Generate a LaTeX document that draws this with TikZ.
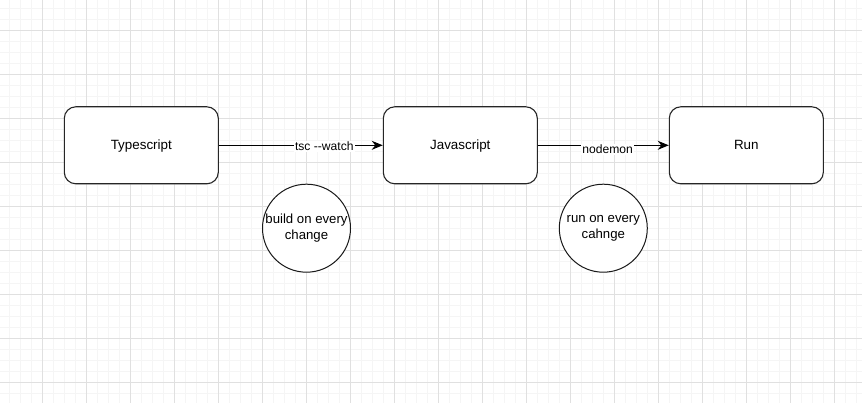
\documentclass[tikz,border=0pt]{standalone}
\usepackage{fontspec}
\setmainfont{Liberation Sans}[Ligatures=TeXOff]
\usetikzlibrary{arrows.meta}
\definecolor{gridminor}{HTML}{F5F5F5}
\definecolor{gridmajor}{HTML}{E0E0E0}
\newcommand{\boxtext}[1]{\raisebox{-4.7pt}[0pt][0pt]{#1}}
\tikzset{
  box/.style={draw=black!85, line width=1.1pt, rounded corners=11.5pt, fill=white,
    minimum width=154pt, minimum height=77pt, inner sep=0pt,
    font=\fontsize{13.4}{15}\selectfont},
  bubble/.style={draw=black!90, line width=1pt, circle, fill=white,
    minimum size=88pt, inner sep=0pt, align=center,
    font=\fontsize{13.2}{15.3}\selectfont},
  conn/.style={line width=1.1pt, -{Stealth[length=11pt,width=9pt,inset=3.5pt]}},
  elabel/.style={fill=white, inner sep=1pt, anchor=base, font=\fontsize{12.1}{14}\selectfont}
}
\begin{document}
\begin{tikzpicture}[x=1pt,y=-1pt]
\useasboundingbox (0,0) rectangle (862,403);
\fill[white] (0,0) rectangle (862,403);
% minor grid
\foreach \i in {0,...,78} {
  \draw[gridminor, line width=1pt] ({9.3+11*\i},0) -- ({9.3+11*\i},403);
}
\foreach \j in {0,...,36} {
  \draw[gridminor, line width=1pt] (0,{8.3+11*\j}) -- (862,{8.3+11*\j});
}
% major grid
\foreach \i in {0,...,19} {
  \draw[gridmajor, line width=0.9pt] ({42.3+44*\i},0) -- ({42.3+44*\i},403);
}
\foreach \j in {0,...,8} {
  \draw[gridmajor, line width=0.9pt] (0,{30.3+44*\j}) -- (862,{30.3+44*\j});
}
% nodes
\node[box] (ts) at (141.3,145.3) {\boxtext{Typescript}};
\node[box] (js) at (460.3,145.3) {\boxtext{Javascript}};
\node[box] (run) at (746.3,145.3) {\boxtext{Run}};
\node[bubble] (b1) at (306.5,228.2) {build on every\\change};
\node[bubble] (b2) at (603.3,228.2) {run on every\\cahnge};
% connectors
\draw[conn] (ts) -- (js);
\draw[conn] (js) -- (run);
\node[elabel] (l1) at (324.3,150.7) {tsc --watch};
\node[elabel] (l2) at (607.7,154) {nodemon};
\end{tikzpicture}
\end{document}
